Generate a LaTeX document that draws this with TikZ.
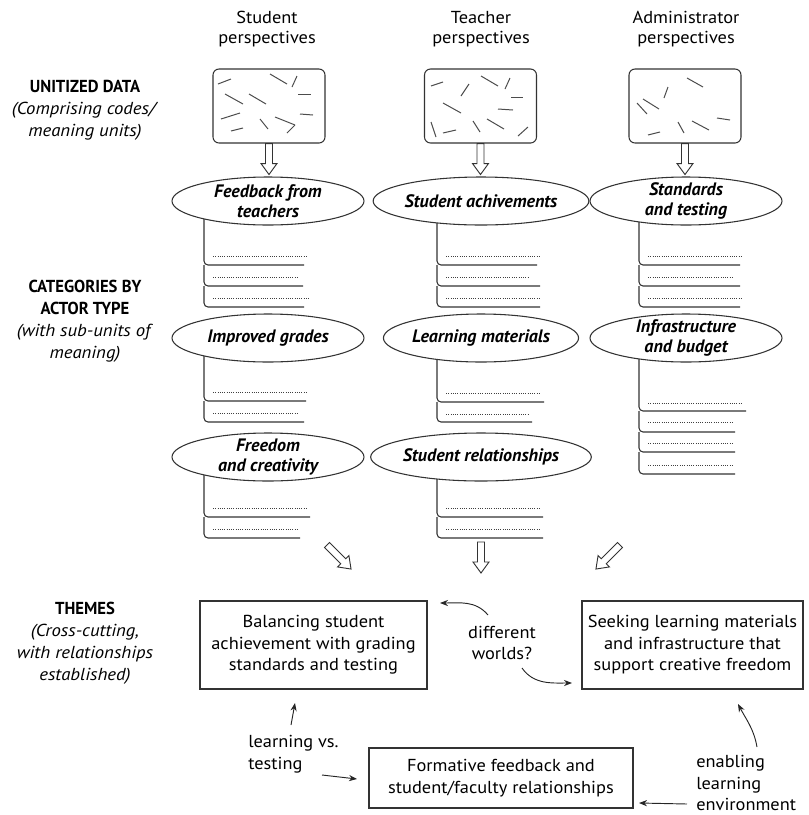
\documentclass[tikz,border=0pt]{standalone}
\usepackage{fontspec}
\setmainfont{PT Sans}
\newfontfamily\bodyfont[FakeStretch=1.06]{PT Sans}
\newfontfamily\sidefont[FakeStretch=1.08]{PT Sans}
\newfontfamily\headfont[FakeStretch=0.96]{PT Sans}
\usetikzlibrary{shapes.geometric,arrows.meta,calc}

% hollow block arrow: [options]{start}{angle}{length}
\newcommand{\hollowarr}[4][]{%
  \draw[ink, line width=0.7pt, line join=miter, shift={#2}, rotate=#3, #1]
    (0,-3.5) -- (#4-11,-3.5) -- (#4-11,-8) -- (#4,0) -- (#4-11,8) -- (#4-11,3.5) -- (0,3.5) -- cycle;}

% bracket of sub-units: {spine x}{top y}{dotted y/solid y/dotted end/solid end,...}
\newcommand{\subunits}[3]{%
  \foreach \dy/\sy/\de/\se [remember=\sy as \prev (initially #2)] in {#3} {
    \draw[ink, rounded corners=3pt] (#1,\prev) -- (#1,\sy) -- (\se,\sy);
    \draw[dots] (#1+9,\dy) -- (\de,\dy);
  }}

\begin{document}
\begin{tikzpicture}[x=0.75pt,y=-0.75pt,
  ink/.style={draw=black!80, line width=0.8pt},
  hatch/.style={draw=black!70, line width=0.75pt},
  dots/.style={draw=black!75, line width=0.55pt, dash pattern=on 0.6pt off 1.1pt},
  databox/.style={ink, rounded corners=4.5pt, minimum width=84pt, minimum height=55.5pt, inner sep=0pt},
  cat/.style={ink, ellipse, fill=white, minimum width=144pt, minimum height=36pt,
    inner xsep=0pt, inner ysep=-3.5pt, align=center,
    font=\bfseries\itshape\fontsize{13.5}{15.2}\selectfont},
  theme/.style={ink, rectangle, align=center, inner sep=0pt,
    font=\bodyfont\fontsize{13}{16.1}\selectfont},
  colhead/.style={align=center, font=\bodyfont\fontsize{13}{15.4}\selectfont},
  side/.style={align=center, font=\sidefont\fontsize{13}{16.6}\selectfont},
  lbl/.style={inner sep=0pt, font=\bodyfont\fontsize{13}{16.1}\selectfont},
  link/.style={draw=black!85, line width=0.7pt, -{Stealth[length=6pt,width=4.6pt]}}
]
\useasboundingbox (0,0) rectangle (808,815);

% column headings
\node[colhead] (hs) at (267,29) {Student\\perspectives};
\node[colhead] (ht) at (481,29) {Teacher\\perspectives};
\node[colhead] (ha) at (686,29) {Administrator\\perspectives};

% row headings
\node[side] (rowdata) at (85,110.5) {{\headfont\bfseries UNITIZED DATA}\\\textit{(Comprising codes/}\\\textit{meaning units)}};
\node[side] (rowcat) at (85,321) {{\headfont\bfseries CATEGORIES BY}\\{\headfont\bfseries ACTOR TYPE}\\\textit{(with sub-units of}\\\textit{meaning)}};
\node[side] (rowtheme) at (85,643) {{\headfont\bfseries THEMES}\\\textit{(Cross-cutting,}\\\textit{with relationships}\\\textit{established)}};

% unitized data boxes
\node[databox] (us) at (269,106) {};
\node[databox] (ut) at (480.5,106) {};
\node[databox] (ua) at (685,106) {};

\foreach \a/\b/\c/\d in {218/84/231/79, 270/74/287/84, 297/76/292/87, 225/94/243/104,
  249/94/266/104, 298/94/311/94, 221/119/240/113, 260/119/268/129, 275/117/295/125,
  295/125/287/133, 300/114/313/115, 231/131/243/128}
  \draw[hatch] (\a,\b) -- (\c,\d);
\foreach \a/\b/\c/\d in {431/86/443/82, 461/96/469/84, 481/76/498/86, 510/78/505/89,
  511/97/523/97, 443/103/461/113, 498/109/513/110, 431/122/436/137, 443/133/456/130,
  473/121/480/132, 487/119/504/129, 518/136/528/127}
  \draw[hatch] (\a,\b) -- (\c,\d);
\foreach \a/\b/\c/\d in {687/78/703/87, 668/87/664/98, 643/99/659/109, 637/103/647/114,
  717/118/730/120, 678/122/684/133, 692/121/709/130, 648/135/660/132}
  \draw[hatch] (\a,\b) -- (\c,\d);

\hollowarr{(us.south)}{-90}{31}
\hollowarr{(ut.south)}{-90}{31}
\hollowarr{(ua.south)}{-90}{31}

% sub-unit brackets (spines start inside the ellipses, which cover them)
\subunits{204}{205}{256/265/308/304, 277/286/297/303, 298/307/309/304}
\subunits{204}{340}{392/401/308/306, 413/422/297/304}
\subunits{204}{460}{508/517/308/310, 529/538/298/300}
\subunits{437}{205}{256/265/540/537, 277/286/528/540, 298/307/540/540}
\subunits{437}{340}{393/402/540/544, 414/422/528/532}
\subunits{437}{460}{508/517/540/543, 529/538/540/543}
\subunits{639}{205}{256/265/741/740, 277/286/732/740, 298/307/741/740}
\subunits{639}{340}{403/411/743/746, 422/432/732/735, 443/452/732/735, 465/474/732/735}

% categories
\node[cat] (c11) at (268,201) {Feedback from\\teachers};
\node[cat] (c12) at (481,201) {Student achivements};
\node[cat] (c13) at (686,201) {Standards\\and testing};
\node[cat] (c21) at (268,338) {Improved grades};
\node[cat] (c22) at (481,338) {Learning materials};
\node[cat] (c23) at (686,338) {Infrastructure\\and budget};
\node[cat] (c31) at (268,457) {Freedom\\and creativity};
\node[cat] (c32) at (481,457) {Student relationships};

% arrows into themes
\hollowarr{(327,545)}{-45}{34}
\hollowarr{(481,542)}{-90}{31}
\hollowarr{(620,545)}{-135}{34}

% themes
\node[theme, minimum width=170.25pt, minimum height=66pt] (t1) at (313.5,645)
  {Balancing student\\achievement with grading\\standards and testing};
\node[theme, minimum width=165.75pt, minimum height=66pt] (t2) at (692.5,645)
  {Seeking learning materials\\and infrastructure that\\support creative freedom};
\node[theme, minimum width=198pt, minimum height=45pt] (t3) at (501,778)
  {Formative feedback and\\student/faculty relationships};

% relationship labels
\node[lbl, align=center] (dw) at (502,643) {different\\worlds?};
\node[lbl, align=left, anchor=west] (lt) at (248,754) {learning vs.\\testing};
\node[lbl, align=left, anchor=west] (ele) at (696,783) {enabling\\learning\\environment};

% free ends of the relationship arrows
\coordinate (dwup) at (488,615);
\coordinate (dwupend) at (440,603);
\coordinate (dwdn) at (522,668);
\coordinate (dwdnend) at (572,683);
\coordinate (ltup) at (291,725);
\coordinate (ltupend) at (295,703);
\coordinate (ltrt) at (322,775);
\coordinate (ltrtend) at (357,779);
\coordinate (eleup) at (757,747);
\coordinate (eleupend) at (738,704);
\coordinate (elelf) at (687,804);
\coordinate (elelfend) at (639,803);

\draw[link] (dwup) to[out=130,in=0] (dwupend);
\draw[link] (dwdn) to[out=-55,in=180] (dwdnend);
\draw[link] (ltup) -- (ltupend);
\draw[link] (ltrt) -- (ltrtend);
\draw[link] (eleup) to[out=100,in=-62] (eleupend);
\draw[link] (elelf) -- (elelfend);
\end{tikzpicture}
\end{document}
